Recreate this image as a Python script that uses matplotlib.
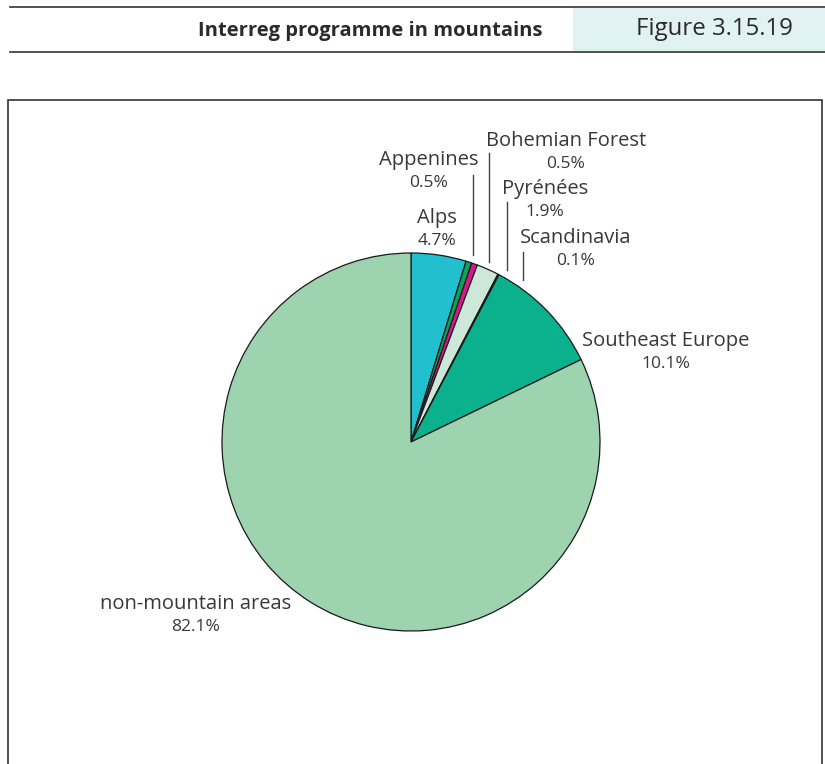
import matplotlib
matplotlib.use("Agg")
import matplotlib.pyplot as plt
from matplotlib.patches import Rectangle

plt.rcParams['font.family'] = ['Open Sans', 'DejaVu Sans']

# Share of Interreg programme area by mountain massif
regions = ["Alps", "Appenines", "Bohemian Forest", "Pyrénées",
           "Scandinavia", "Southeast Europe", "non-mountain areas"]
shares = [4.7, 0.5, 0.5, 1.9, 0.1, 10.1, 82.1]
colors = ["#22bfcf", "#0ea35a", "#d9168f", "#cde8d8",
          "#2186b0", "#0bb08c", "#9dd3af"]

W, H = 825, 764
fig = plt.figure(figsize=(W / 100, H / 100), dpi=100)
ax = fig.add_axes([0, 0, 1, 1])

def py(y):
    # convert a top-down pixel row to axes units
    return H - y

# pie
cx, cy, r = 411, 442, 189
ax.pie(shares, colors=colors, startangle=90, counterclock=False,
       center=(cx, py(cy)), radius=r,
       wedgeprops=dict(edgecolor="#1a1a1a", linewidth=0.9))

ax.set_xlim(0, W)
ax.set_ylim(0, H)
ax.set_aspect('auto')
ax.axis('off')

# header band
ax.add_patch(Rectangle((573, py(51)), W - 573, 43, facecolor="#e1f2f2",
                       edgecolor="none", zorder=0))
ax.plot([10, W], [py(7), py(7)], color="#333333", lw=1.2)
ax.plot([10, W], [py(52), py(52)], color="#333333", lw=1.2)
ax.text(543, py(31), "Interreg programme in mountains", ha="right",
        va="center", fontsize=14.5, fontweight="bold", color="#2a2a2a")
ax.text(714, py(29), "Figure 3.15.19", ha="center", va="center",
        fontsize=17.3, color="#2a2a2a")

# frame around the chart panel
ax.add_patch(Rectangle((8, -20), 814, py(100) + 20, facecolor="none",
                       edgecolor="#333333", lw=1.2))

# labels: (name x, name y, pct y)
label_pos = {
    "Alps": (437, 218, 241),
    "Appenines": (429, 160, 183),
    "Bohemian Forest": (566, 141, 164),
    "Pyrénées": (545, 189, 212),
    "Scandinavia": (576, 238, 261),
    "Southeast Europe": (666, 341, 364),
    "non-mountain areas": (196, 604, 627),
}
for name, val in zip(regions, shares):
    x, y1, y2 = label_pos[name]
    ax.text(x, py(y1), name, ha="center", va="center", fontsize=14.5,
            color="#383838")
    ax.text(x, py(y2), f"{val:.1f}%", ha="center", va="center",
            fontsize=12.5, color="#383838")

# leader lines
leaders = [(473, 175, 255), (489, 153, 262), (507, 202, 270), (523, 252, 280)]
for x, y0, y1 in leaders:
    ax.plot([x, x], [py(y0), py(y1)], color="#444444", lw=1)

fig.savefig("out.png", dpi=100)
